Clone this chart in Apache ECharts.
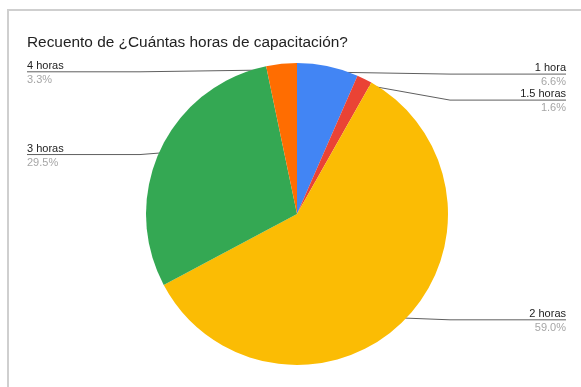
<!DOCTYPE html>
<html>
<head>
<meta charset="utf-8">
<script src="https://cdn.jsdelivr.net/npm/echarts@6/dist/echarts.min.js"></script>
<style>
  html, body { margin: 0; padding: 0; background: #fff; }
  #chart { width: 581px; height: 387px; }
</style>
</head>
<body>
<div id="chart"></div>
<script>
// Responses to "¿Cuántas horas de capacitación?"
const categories = ['1 hora', '1.5 horas', '2 horas', '3 horas', '4 horas'];
const counts = [4, 1, 36, 18, 2];
const colors = ['#4285f4', '#ea4335', '#fbbc04', '#34a853', '#ff6d01'];
const titleText = 'Recuento de ¿Cuántas horas de capacitación?';

const total = counts.reduce((a, b) => a + b, 0);
const CX = 297, CY = 214, R = 151;
const LEFT_EDGE = 27, RIGHT_EDGE = 566;
const GAP = 26;

const chart = echarts.init(document.getElementById('chart'), null, { renderer: 'canvas' });

// y positions of leader lines already placed, per side, to keep labels apart
let placed = { left: [], right: [] };

function freeY(side, y) {
  const list = placed[side];
  let moved = true;
  while (moved) {
    moved = false;
    for (const other of list) {
      if (Math.abs(y - other) < GAP) { y = other + GAP; moved = true; }
    }
  }
  list.push(y);
  return y;
}

chart.setOption({
  backgroundColor: '#fff',
  animation: false,
  textStyle: { fontFamily: 'Arial, "Liberation Sans", sans-serif' },
  graphic: [{
    type: 'rect',
    silent: true,
    z: -10,
    shape: { x: 8, y: 10, width: 620, height: 420 },
    style: { fill: '#fff', stroke: '#cfcfcf', lineWidth: 2 }
  }],
  title: {
    text: titleText,
    left: LEFT_EDGE - 5,
    top: 30,
    textStyle: { fontSize: 15.4, fontWeight: 'normal', color: '#222', fontFamily: 'Arial, "Liberation Sans", sans-serif' }
  },
  series: [{
    type: 'pie',
    center: [CX, CY],
    radius: [0, R],
    startAngle: 90,
    clockwise: true,
    avoidLabelOverlap: false,
    data: categories.map((name, i) => ({ name, value: counts[i], itemStyle: { color: colors[i] } })),
    itemStyle: { borderWidth: 0 },
    emphasis: { disabled: true },
    label: {
      show: true,
      position: 'outside',
      formatter: p => '{n|' + p.name + '}\n{p|' + (p.value / total * 100).toFixed(1) + '%}',
      rich: {
        n: { fontSize: 11, color: '#222', lineHeight: 14, fontFamily: 'Arial, "Liberation Sans", sans-serif' },
        p: { fontSize: 11, color: '#a6a6a6', lineHeight: 14, fontFamily: 'Arial, "Liberation Sans", sans-serif' }
      }
    },
    labelLine: {
      show: true,
      length: 10,
      length2: 10,
      lineStyle: { color: '#5f5f5f', width: 1 }
    },
    labelLayout: function (p) {
      if (p.dataIndex === 0) placed = { left: [], right: [] };
      const pts = p.labelLinePoints;
      if (!pts) return {};
      const ax = CX + (pts[0][0] - CX) * 0.96;
      const ay = CY + (pts[0][1] - CY) * 0.96;
      const right = ax >= CX;
      const side = right ? 'right' : 'left';
      const lineY = freeY(side, ay + 2);
      const edge = right ? RIGHT_EDGE : LEFT_EDGE;
      const bend = right ? 450 : 140;
      return {
        x: edge, y: lineY + 1, align: right ? 'right' : 'left', verticalAlign: 'middle',
        labelLinePoints: [[ax, ay], [bend, lineY], [edge, lineY]]
      };
    }
  }]
});
</script>
</body>
</html>
